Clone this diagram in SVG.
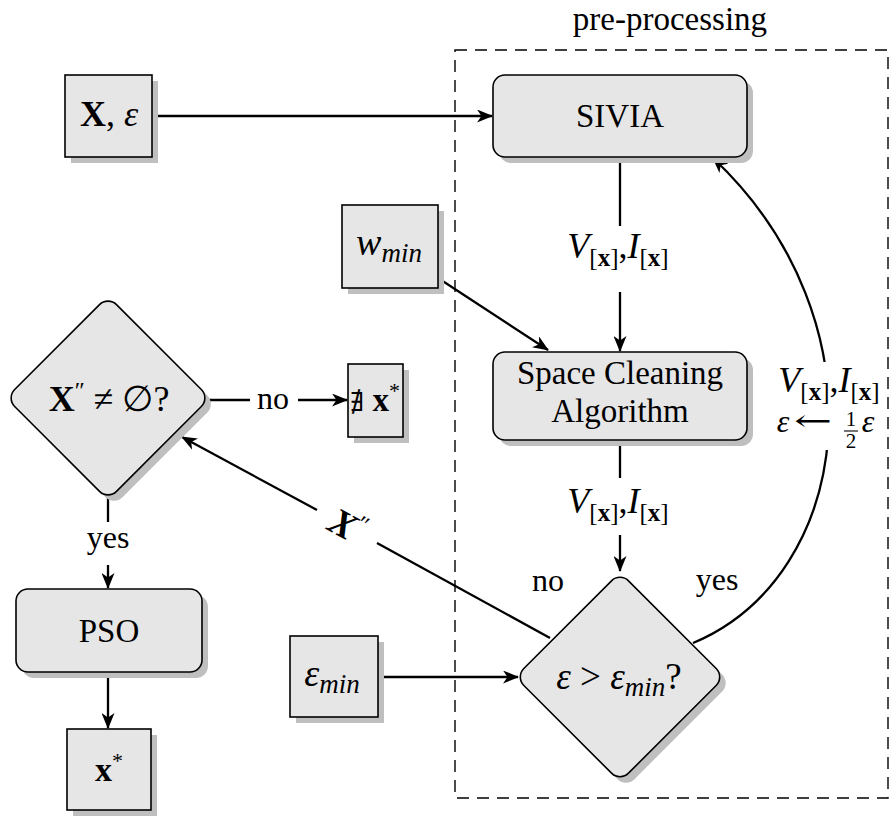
<svg xmlns="http://www.w3.org/2000/svg" width="894" height="819" viewBox="0 0 894 819">
<style>
text{font-family:"Liberation Serif","DejaVu Serif",serif;fill:#000;text-anchor:middle}
.n{fill:#e6e6e6;stroke:#000;stroke-width:1.6}
.sh{fill:#bfbfbf;stroke:none}
.c{fill:none;stroke:#000;stroke-width:2.3}
.i{font-style:italic}
.b{font-weight:bold}
.t{font-size:33px}
.m{font-size:32px}
.v{font-size:36px}
</style>
<defs>
<marker id="ah" viewBox="0 0 16 13" markerWidth="16" markerHeight="13" refX="15" refY="6.5" orient="auto" markerUnits="userSpaceOnUse">
<path d="M0,0 L16,6.5 L0,13 L4.5,6.5 z" fill="#000"/>
</marker>
</defs>
<rect x="0" y="0" width="894" height="819" fill="#fff"/>

<g id="preprocessing">
<rect x="455" y="50" width="433" height="748" fill="none" stroke="#000" stroke-width="1.4" stroke-dasharray="12 8"/>
<text x="670" y="30" class="t">pre-processing</text>
</g>

<g id="connectors">
<path class="c" d="M152,116 L492,116" marker-end="url(#ah)"/>
<path class="c" d="M620,157 L620,226"/>
<path class="c" d="M620,292 L620,351" marker-end="url(#ah)"/>
<path class="c" d="M438,278 L548,350" marker-end="url(#ah)"/>
<path class="c" d="M620,440 L620,478"/>
<path class="c" d="M620,535 L620,571" marker-end="url(#ah)"/>
<path class="c" d="M378,677 L518,677" marker-end="url(#ah)"/>
<path class="c" d="M550,638 L377,543"/>
<path class="c" d="M317,510 L182,437" marker-end="url(#ah)"/>
<path class="c" d="M693,643 C855,575 885,320 713,158" marker-end="url(#ah)"/>
<path class="c" d="M205,400 L250,400"/>
<path class="c" d="M298,400 L347,400" marker-end="url(#ah)"/>
<path class="c" d="M108,495 L108,522"/>
<path class="c" d="M108,565 L108,588" marker-end="url(#ah)"/>
<path class="c" d="M108,672 L108,728" marker-end="url(#ah)"/>
<text x="618" y="258" class="v"><tspan class="i">V</tspan><tspan font-size="25" dy="8">[<tspan class="b">x</tspan>]</tspan><tspan dy="-8">,</tspan><tspan class="i">I</tspan><tspan font-size="25" dy="8">[<tspan class="b">x</tspan>]</tspan></text>
<text x="618" y="513" class="v"><tspan class="i">V</tspan><tspan font-size="25" dy="8">[<tspan class="b">x</tspan>]</tspan><tspan dy="-8">,</tspan><tspan class="i">I</tspan><tspan font-size="25" dy="8">[<tspan class="b">x</tspan>]</tspan></text>
<text x="548" y="591" class="m">no</text>
<text x="717" y="590" class="m">yes</text>
<rect x="766" y="362" width="121" height="88" fill="#fff"/>
<text x="829" y="392" class="v"><tspan class="i">V</tspan><tspan font-size="25" dy="8">[<tspan class="b">x</tspan>]</tspan><tspan dy="-8">,</tspan><tspan class="i">I</tspan><tspan font-size="25" dy="8">[<tspan class="b">x</tspan>]</tspan></text>
<text x="783" y="432" class="m i">ε</text>
<text x="813" y="431" font-size="30" textLength="38" lengthAdjust="spacingAndGlyphs" style="font-family:'DejaVu Serif',serif">←</text>
<text x="851" y="426" font-size="21">1</text>
<line x1="844" y1="431" x2="858" y2="431" stroke="#000" stroke-width="1.1"/>
<text x="851" y="448" font-size="21">2</text>
<text x="868" y="432" class="m i">ε</text>
<text x="273" y="409" class="m">no</text>
<text x="108" y="548" class="m">yes</text>
<text x="347" y="539" font-size="38" transform="rotate(28.6 347 527)"><tspan class="b i">X</tspan><tspan font-size="24" dy="-14">″</tspan></text>
</g>

<g id="input-X-eps">
<rect class="sh" x="71" y="81" width="87" height="82"/>
<rect class="n" x="65" y="75" width="87" height="82"/>
<text x="109" y="126" font-size="36"><tspan class="b">X</tspan>, <tspan class="i">ε</tspan></text>
</g>

<g id="sivia">
<rect class="sh" x="499" y="81" width="254" height="82" rx="12"/>
<rect class="n" x="493" y="75" width="254" height="82" rx="12"/>
<text x="620" y="127" class="t">SIVIA</text>
</g>

<g id="input-wmin">
<rect class="sh" x="348" y="211" width="96" height="83"/>
<rect class="n" x="342" y="205" width="96" height="83"/>
<text x="389" y="255" font-size="38"><tspan class="i">w</tspan><tspan class="i" font-size="27" dy="7">min</tspan></text>
</g>

<g id="space-cleaning">
<rect class="sh" x="499" y="358" width="254" height="88" rx="12"/>
<rect class="n" x="493" y="352" width="254" height="88" rx="12"/>
<text x="620" y="384" class="t">Space Cleaning</text>
<text x="620" y="422" class="t">Algorithm</text>
</g>

<g id="decision-eps">
<rect class="sh" x="-74" y="-74" width="148" height="148" rx="12" transform="translate(626,683) rotate(45)"/>
<rect class="n" x="-74" y="-74" width="148" height="148" rx="12" transform="translate(620,677) rotate(45)"/>
<text x="619" y="689" font-size="37"><tspan class="i">ε</tspan> &gt; <tspan class="i">ε</tspan><tspan class="i" font-size="27" dy="7">min</tspan><tspan dy="-7">?</tspan></text>
</g>

<g id="input-emin">
<rect class="sh" x="296" y="642" width="88" height="81"/>
<rect class="n" x="290" y="636" width="88" height="81"/>
<text x="332" y="686" font-size="38"><tspan class="i">ε</tspan><tspan class="i" font-size="27" dy="7">min</tspan></text>
</g>

<g id="decision-X">
<rect class="sh" x="-72" y="-72" width="144" height="144" rx="12" transform="translate(114,404) rotate(45)"/>
<rect class="n" x="-72" y="-72" width="144" height="144" rx="12" transform="translate(108,398) rotate(45)"/>
<text x="109" y="411" font-size="36"><tspan class="b">X</tspan><tspan font-size="24" dy="-13">″</tspan><tspan dy="13"> ≠ ∅?</tspan></text>
</g>

<g id="no-solution">
<rect class="sh" x="354" y="370" width="55" height="73"/>
<rect class="n" x="348" y="364" width="55" height="73"/>
<text x="375" y="411" font-size="33"><tspan font-weight="normal" style="font-family:'DejaVu Serif',serif" font-size="26">∄</tspan> <tspan class="b">x</tspan><tspan font-size="22" dy="-13">*</tspan></text>
</g>

<g id="pso">
<rect class="sh" x="22" y="595" width="186" height="83" rx="12"/>
<rect class="n" x="16" y="589" width="186" height="83" rx="12"/>
<text x="109" y="642" class="t">PSO</text>
</g>

<g id="output-xstar">
<rect class="sh" x="73" y="735" width="84" height="81"/>
<rect class="n" x="67" y="729" width="84" height="81"/>
<text x="109" y="781" font-size="34"><tspan class="b">x</tspan><tspan font-size="22" dy="-13">*</tspan></text>
</g>
</svg>
